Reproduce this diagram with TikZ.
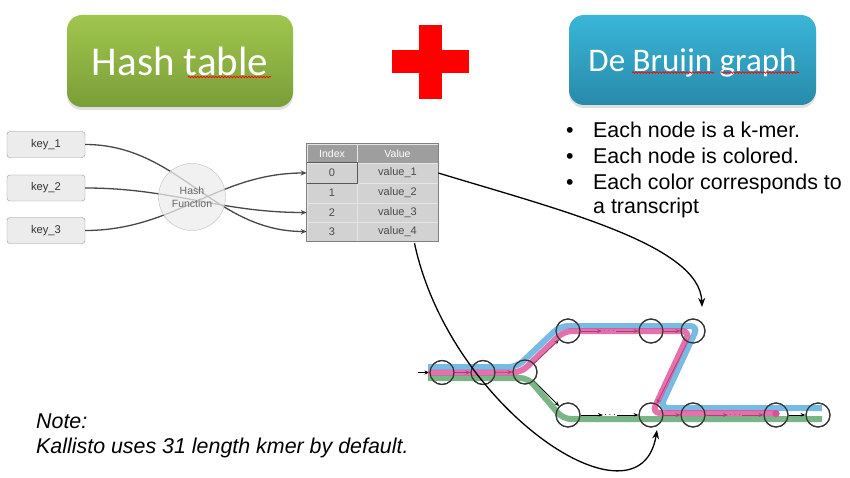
\documentclass[tikz,border=0pt]{standalone}
\usepackage{fontspec}
\setmainfont{Liberation Sans}
\newfontfamily\titlefont{Carlito}
\usetikzlibrary{arrows.meta,shadows,decorations.pathmorphing,calc}

\definecolor{greenTop}{RGB}{160,198,78}
\definecolor{greenBot}{RGB}{122,158,56}
\definecolor{blueTop}{RGB}{58,182,216}
\definecolor{blueBot}{RGB}{40,138,170}
\definecolor{plusRed}{RGB}{255,0,0}
\definecolor{keyFill}{RGB}{236,236,236}
\definecolor{keyLine}{RGB}{150,150,150}
\definecolor{hashLine}{RGB}{72,72,72}
\definecolor{headFill}{RGB}{158,158,158}
\definecolor{cellFill}{RGB}{210,210,210}
\definecolor{cellText}{RGB}{75,75,75}
\definecolor{trBlue}{RGB}{86,170,222}
\definecolor{trPink}{RGB}{222,78,150}
\definecolor{trGreen}{RGB}{88,163,104}

\tikzset{
  titlebox/.style={rectangle, rounded corners=15pt, text=white, text depth=0pt,
    drop shadow={shadow xshift=0pt, shadow yshift=-3pt, opacity=0.25}},
  spellmark/.style={draw=red, line width=0.7pt,
    decorate, decoration={snake, amplitude=0.8pt, segment length=3pt}},
  bullettext/.style={anchor=base west, inner sep=0pt, font=\fontsize{21.4}{25}\selectfont},
  keybox/.style={rectangle, rounded corners=3pt, draw=keyLine, fill=keyFill,
    minimum width=78pt, minimum height=26pt, inner sep=0pt,
    font=\fontsize{11.2}{12}\selectfont, text=black!80},
  hashfn/.style={circle, draw=black!25, fill=black!7, fill opacity=0.75, text opacity=1,
    minimum size=67pt, inner sep=0pt, align=center,
    font=\fontsize{10.5}{12.5}\selectfont, text=black!60},
  hashline/.style={draw=hashLine, line width=1.3pt, -{Stealth[length=6pt,width=5pt]}},
  tcell/.style={rectangle, draw=white!80!gray, line width=0.6pt, fill=cellFill,
    inner sep=0pt, text=cellText, font=\fontsize{11}{12}\selectfont},
  hcell/.style={tcell, fill=headFill, text=white, font=\fontsize{10.5}{12}\selectfont},
  bigarrow/.style={draw=black, line width=1.3pt, -{Stealth[length=9pt,width=7pt]}},
  dbnode/.style={circle, draw=black!80, line width=1.1pt, minimum size=24pt, inner sep=0pt},
  dbedge/.style={draw=black, line width=0.8pt, -{Stealth[length=5pt,width=4pt]}},
  dbdots/.style={inner sep=1pt, font=\fontsize{10}{10}\selectfont},
  transcript/.style={line width=6pt, rounded corners=8pt, opacity=0.8},
  notetext/.style={anchor=base west, inner sep=0pt, font=\fontsize{21.4}{25}\selectfont\itshape},
}

\begin{document}
\begin{tikzpicture}[x=1pt,y=-1pt]
\useasboundingbox (0,0) rectangle (850,478);
\fill[white] (0,0) rectangle (850,478);

% --- title boxes -------------------------------------------------------
\node[titlebox, top color=greenTop, bottom color=greenBot,
      minimum width=226pt, minimum height=92pt,
      font=\titlefont\fontsize{41}{41}\selectfont] (hashtitle) at (180,61) {Hash table};
\draw[spellmark] (188,77) -- (271,77);

\node[titlebox, top color=blueTop, bottom color=blueBot,
      minimum width=247pt, minimum height=90pt,
      font=\titlefont\fontsize{33}{33}\selectfont] (dbgtitle) at (692.5,60) {De Bruijn graph};
\draw[spellmark] (632,72.5) -- (714,72.5);
\draw[spellmark] (721,72.5) -- (799,72.5);

% --- plus sign ---------------------------------------------------------
\fill[plusRed] (419,25) rectangle (442,99);
\fill[plusRed] (392,50) rectangle (469,73);

% --- bullet list -------------------------------------------------------
\node[bullettext] (b1dot) at (566,138) {•};
\node[bullettext] (b1) at (593,138) {Each node is a k-mer.};
\node[bullettext] (b2dot) at (566,164) {•};
\node[bullettext] (b2) at (593,164) {Each node is colored.};
\node[bullettext] (b3dot) at (566,189.5) {•};
\node[bullettext] (b3) at (593,189.5) {Each color corresponds to};
\node[bullettext] (b4) at (593,213.5) {a transcript};

% --- hash table: keys --------------------------------------------------
\node[keybox] (key1) at (46,144.5) {key\_1};
\node[keybox] (key2) at (46,188) {key\_2};
\node[keybox] (key3) at (46,230.5) {key\_3};

% --- hash table: index/value table -------------------------------------
\node[hcell, minimum width=50pt, minimum height=19pt] (hidx) at (332,153.5) {Index};
\node[hcell, minimum width=81pt, minimum height=19pt] (hval) at (397.5,153.5) {Value};
\node[tcell, minimum width=50pt, minimum height=20pt] (idx0) at (332,173) {0};
\node[tcell, minimum width=81pt, minimum height=20pt] (val0) at (397.5,173) {value\_1};
\node[tcell, minimum width=50pt, minimum height=20pt] (idx1) at (332,193) {1};
\node[tcell, minimum width=81pt, minimum height=20pt] (val1) at (397.5,193) {value\_2};
\node[tcell, minimum width=50pt, minimum height=19pt] (idx2) at (332,212.5) {2};
\node[tcell, minimum width=81pt, minimum height=19pt] (val2) at (397.5,212.5) {value\_3};
\node[tcell, minimum width=50pt, minimum height=19pt] (idx3) at (332,231.5) {3};
\node[tcell, minimum width=81pt, minimum height=19pt] (val3) at (397.5,231.5) {value\_4};
\draw[black!65, line width=0.9pt] (idx0.north west) rectangle (idx0.south east);
\draw[black!50, line width=0.8pt] (hidx.north west) rectangle (val3.south east);

% --- hash function connectors ------------------------------------------
\draw[hashline] (key1.east) to[out=0,in=180] (idx3.west);
\draw[hashline] (key2.east) to[out=0,in=180] (idx2.west);
\draw[hashline] (key3.east) to[out=0,in=180] (idx0.west);
\node[hashfn] (hash) at (192,197) {Hash\\Function};

% --- de Bruijn graph: k-mer nodes --------------------------------------
\coordinate (entry) at (418,372.5);
\node[dbnode] (n1) at (442,372.5) {};
\node[dbnode] (n2) at (483,372.5) {};
\node[dbnode] (n3) at (525,372) {};
\node[dbnode] (n4) at (568,331) {};
\node[dbnode] (n5) at (651,331) {};
\node[dbnode] (n6) at (693,331) {};
\node[dbnode] (n7) at (568,415) {};
\node[dbnode] (n8) at (651,415) {};
\node[dbnode] (n9) at (693,415) {};
\node[dbnode] (n10) at (776,415) {};
\node[dbnode] (n11) at (818,415) {};
\node[dbdots] (dT) at (609,331) {$\cdots$};
\node[dbdots] (dB1) at (610,415) {$\cdots$};
\node[dbdots] (dB2) at (735,415) {$\cdots$};

% edges between k-mers
\draw[dbedge] (entry) -- (n1);
\draw[dbedge] (n1) -- (n2);
\draw[dbedge] (n2) -- (n3);
\draw[dbedge] (n3) -- (n4);
\draw[dbedge] (n4) -- (dT);
\draw[dbedge] (dT) -- (n5);
\draw[dbedge] (n5) -- (n6);
\draw[dbedge] (n6) -- (n8);
\draw[dbedge] (n3) -- (n7);
\draw[dbedge] (n7) -- (dB1);
\draw[dbedge] (dB1) -- (n8);
\draw[dbedge] (n8) -- (n9);
\draw[dbedge] (n9) -- (dB2);
\draw[dbedge] (dB2) -- (n10);
\draw[dbedge] (n10) -- (n11);

% coloured transcript paths
\draw[transcript, trBlue] (428,367) -- (517,367) -- (560,326) -- (698,326)
  -- (660,408) -- (822,408);
\draw[transcript, trGreen] (428,378) -- (528,378) -- (563,419) -- (822,419);
\draw[transcript, trPink] (428,372.5) -- (521,372.5) -- (564,331) -- (690,331)
  -- (652,413) -- (776,413);
\fill[trPink] (n10.center) ++(0,-1.5) circle (3.6pt);

% redraw node outlines above the paths
\foreach \n in {n1,n2,n3,n4,n5,n6,n7,n8,n9,n10,n11}
  \draw[black!80, line width=1.1pt] (\n) circle (12pt);

% --- lookups from the table into the graph -----------------------------
\coordinate (tipA) at (702,307);
\coordinate (tipB) at (657,430);
\coordinate (startB) at ($(val3.south)+(17,2)$);
\draw[bigarrow] (val0.east) .. controls (560,210) and (700,245) .. (tipA);
\draw[bigarrow] (startB) .. controls (450,410) and (640,535) .. (tipB);

% --- note --------------------------------------------------------------
\node[notetext] (note1) at (36,428) {Note:};
\node[notetext] (note2) at (36,453) {Kallisto uses 31 length kmer by default.};
\end{tikzpicture}
\end{document}
